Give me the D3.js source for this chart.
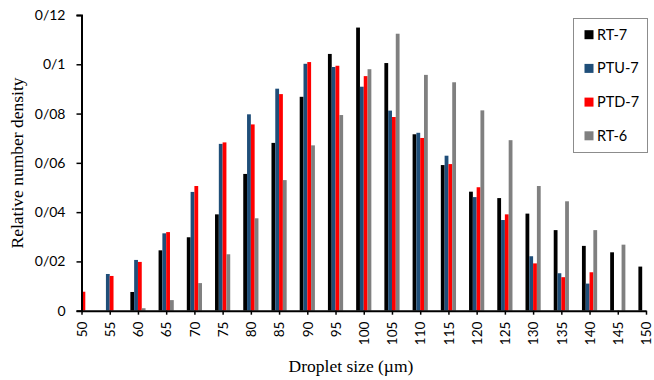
<!DOCTYPE html>
<html>
<head>
<meta charset="utf-8">
<script src="https://cdn.jsdelivr.net/npm/d3@7"></script>
<style>
  html, body { margin: 0; padding: 0; background: #fff; }
  svg { display: block; }
</style>
</head>
<body>
<svg id="chart" width="654" height="380"></svg>
<script>
// Droplet size classes (µm)
const sizes = [50, 55, 60, 65, 70, 75, 80, 85, 90, 95, 100, 105, 110, 115, 120, 125, 130, 135, 140, 145, 150];

// Relative number density per size class
const rt7  = [0, 0, 0.0076, 0.0245, 0.0298, 0.0391, 0.0555, 0.0681, 0.0868, 0.1042, 0.1149, 0.1005, 0.0716, 0.0591, 0.0483, 0.0457, 0.0394, 0.0327, 0.0263, 0.0237, 0.0179];
const ptu7 = [0, 0.0149, 0.0206, 0.0314, 0.0482, 0.0677, 0.0797, 0.0901, 0.1002, 0.0989, 0.0909, 0.0812, 0.0722, 0.0629, 0.0461, 0.0368, 0.0221, 0.0152, 0.0110, 0, 0];
const ptd7 = [0.0077, 0.0141, 0.0198, 0.0319, 0.0506, 0.0683, 0.0756, 0.0879, 0.1009, 0.0994, 0.0952, 0.0786, 0.0701, 0.0595, 0.0501, 0.0391, 0.0192, 0.0136, 0.0156, 0, 0];
const rt6  = [0, 0, 0.0010, 0.0043, 0.0112, 0.0229, 0.0375, 0.0530, 0.0671, 0.0794, 0.0980, 0.1124, 0.0957, 0.0927, 0.0813, 0.0692, 0.0506, 0.0444, 0.0327, 0.0268, 0];

const seriesNames = ["RT-7", "PTU-7", "PTD-7", "RT-6"];
const seriesColors = ["#000000", "#1F4E79", "#FF0000", "#808080"];
const seriesValues = [rt7, ptu7, ptd7, rt6];

const yTicks = [0, 0.02, 0.04, 0.06, 0.08, 0.10, 0.12];
const yTickLabels = ["0", "0/02", "0/04", "0/06", "0/08", "0/1", "0/12"];

const svg = d3.select("#chart");
const x = d3.scaleLinear().domain([50, 150]).range([81.5, 646]);
const y = d3.scaleLinear().domain([0, 0.12]).range([310.7, 15]);
const bw = 3.8;

// clip bars to the plotting region
svg.append("defs").append("clipPath").attr("id", "plotClip")
  .append("rect")
  .attr("x", x(50)).attr("y", 0)
  .attr("width", x(150) - x(50)).attr("height", y(0));

const bars = svg.append("g").attr("clip-path", "url(#plotClip)");
seriesValues.forEach((vals, si) => {
  bars.append("g")
    .attr("fill", seriesColors[si])
    .selectAll("rect")
    .data(sizes.map((s, i) => ({ s, v: vals[i] })))
    .join("rect")
    .attr("x", d => x(d.s) + (si - 2) * bw)
    .attr("width", bw)
    .attr("y", d => y(d.v))
    .attr("height", d => y(0) - y(d.v));
});

// Y axis
const yAxis = svg.append("g")
  .attr("transform", `translate(${x(50)},0)`)
  .call(d3.axisLeft(y).tickValues(yTicks).tickFormat((d, i) => yTickLabels[i]).tickSize(5).tickPadding(11));
yAxis.select(".domain").attr("stroke", "#000").attr("stroke-width", 2);
yAxis.selectAll(".tick line").attr("stroke", "#000").attr("stroke-width", 1.5);
yAxis.selectAll(".tick text")
  .attr("font-family", "Lato, 'Open Sans', sans-serif")
  .attr("font-size", 14).attr("fill", "#000");

// X axis
const xAxis = svg.append("g")
  .attr("transform", `translate(0,${y(0)})`)
  .call(d3.axisBottom(x).tickValues(sizes).tickFormat(d3.format("d")).tickSize(4).tickSizeOuter(0));
xAxis.select(".domain").attr("stroke", "#000").attr("stroke-width", 2);
xAxis.selectAll(".tick line").attr("stroke", "#000").attr("stroke-width", 1.5);
xAxis.selectAll(".tick text")
  .attr("font-family", "Lato, 'Open Sans', sans-serif")
  .attr("font-size", 13.5).attr("fill", "#000")
  .attr("transform", "rotate(-90)")
  .attr("text-anchor", "end")
  .attr("dy", "0.35em")
  .attr("x", -11)
  .attr("y", 0);

// Axis titles
svg.append("text")
  .attr("x", 351).attr("y", 372)
  .attr("text-anchor", "middle")
  .attr("font-family", "'Liberation Serif', 'Times New Roman', serif")
  .attr("font-size", 17.5)
  .text("Droplet size (µm)");

svg.append("text")
  .attr("transform", "translate(23,163) rotate(-90)")
  .attr("text-anchor", "middle")
  .attr("font-family", "'Liberation Serif', 'Times New Roman', serif")
  .attr("font-size", 17.5)
  .text("Relative number density");

// Legend
const legend = svg.append("g");
legend.append("rect")
  .attr("x", 573.5).attr("y", 18.5)
  .attr("width", 74).attr("height", 134)
  .attr("fill", "#fff").attr("stroke", "#8c8c8c").attr("stroke-width", 1);
seriesNames.forEach((name, i) => {
  const cy = 34.7 + i * 33.7;
  legend.append("rect")
    .attr("x", 584.5).attr("y", cy - 4.5)
    .attr("width", 9).attr("height", 9)
    .attr("fill", seriesColors[i]);
  legend.append("text")
    .attr("x", 597).attr("y", cy)
    .attr("dy", "0.35em")
    .attr("font-family", "Lato, 'Open Sans', sans-serif")
    .attr("font-size", 14.5)
    .text(name);
});
</script>
</body>
</html>
